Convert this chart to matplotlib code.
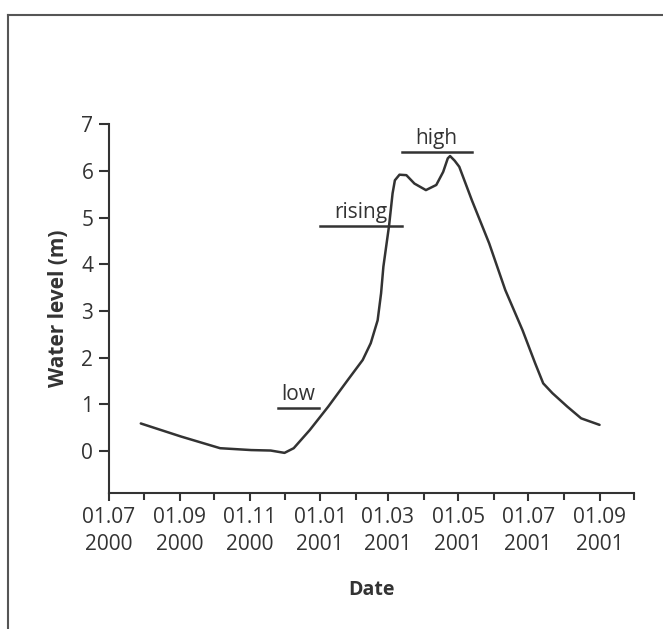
import matplotlib
matplotlib.use('Agg')
import matplotlib.pyplot as plt
import matplotlib.dates as mdates
from matplotlib.lines import Line2D
import numpy as np

# water level readings
dates = ['2000-07-29', '2000-09-02', '2000-10-06', '2000-11-02', '2000-11-19',
         '2000-12-01', '2000-12-09', '2000-12-23', '2001-01-08', '2001-01-25',
         '2001-02-07', '2001-02-14', '2001-02-20', '2001-02-23', '2001-02-25',
         '2001-03-02', '2001-03-05', '2001-03-07', '2001-03-11', '2001-03-17',
         '2001-03-24', '2001-04-03', '2001-04-12', '2001-04-18', '2001-04-22',
         '2001-04-24', '2001-04-28', '2001-05-02', '2001-05-13', '2001-05-28',
         '2001-06-11', '2001-06-26', '2001-07-07', '2001-07-14', '2001-07-22',
         '2001-08-04', '2001-08-16', '2001-09-01']
level = [0.59, 0.31, 0.06, 0.02, 0.01,
         -0.04, 0.06, 0.45, 0.95, 1.52,
         1.95, 2.31, 2.80, 3.38, 3.95,
         4.84, 5.52, 5.80, 5.92, 5.91,
         5.73, 5.59, 5.70, 5.98, 6.27,
         6.32, 6.22, 6.09, 5.37, 4.45,
         3.45, 2.59, 1.88, 1.45, 1.24,
         0.95, 0.70, 0.56]

# phase markers: label, start, end, level
phases = ['low', 'rising', 'high']
phase_start = ['2000-11-25', '2001-01-01', '2001-03-13']
phase_end = ['2000-12-31', '2001-03-13', '2001-05-13']
phase_y = [0.93, 4.82, 6.41]

tick_dates = ['2000-07-01', '2000-09-01', '2000-11-01', '2001-01-01',
              '2001-03-01', '2001-05-01', '2001-07-01', '2001-09-01']
tick_labels = ['01.07\n2000', '01.09\n2000', '01.11\n2000', '01.01\n2001',
               '01.03\n2001', '01.05\n2001', '01.07\n2001', '01.09\n2001']

ink = '#333333'
plt.rcParams['font.family'] = ['Open Sans', 'DejaVu Sans']

fig = plt.figure(figsize=(6.63, 6.29), dpi=100)
ax = fig.add_axes([0.1638, 0.2162, 0.9563 - 0.1638, 0.8024 - 0.2162])

x = np.array(dates, dtype='datetime64[D]')
ax.plot(x, level, color=ink, lw=1.8, solid_capstyle='round',
        solid_joinstyle='round')

for name, s, e, y in zip(phases, phase_start, phase_end, phase_y):
    s, e = np.datetime64(s), np.datetime64(e)
    ax.plot([s, e], [y, y], color=ink, lw=1.8)
    mid = s + (e - s) / 2
    ax.text(mid, y + 0.06, name, ha='center', va='bottom', fontsize=15,
            color=ink)

ax.set_xlim(np.datetime64('2000-07-01'), np.datetime64('2001-10-01'))
ax.set_ylim(-0.9, 7)
ax.set_yticks(range(0, 8))
ax.set_xticks(np.array(tick_dates, dtype='datetime64[D]'))
ax.set_xticklabels(tick_labels, linespacing=1.4)
ax.xaxis.set_minor_locator(mdates.MonthLocator())

for side in ['top', 'right']:
    ax.spines[side].set_visible(False)
for side in ['left', 'bottom']:
    ax.spines[side].set_color(ink)
    ax.spines[side].set_linewidth(1.5)
ax.spines['left'].set_bounds(-0.9, 7)

ax.tick_params(axis='both', which='both', colors=ink, labelcolor=ink,
               labelsize=15, width=1.5)
ax.tick_params(axis='y', length=7, pad=4)
ax.tick_params(axis='x', which='major', length=6, pad=4)
ax.tick_params(axis='x', which='minor', length=5)

ax.set_xlabel('Date', fontsize=14, fontweight='bold', color=ink, labelpad=18)
ax.set_ylabel('Water level (m)', fontsize=15, fontweight='bold', color=ink,
              labelpad=9)

# frame around the figure (left and top edges visible)
fig.add_artist(Line2D([8 / 663, 8 / 663], [0, 1 - 15 / 629],
                      transform=fig.transFigure, color='#555555', lw=1.5))
fig.add_artist(Line2D([8 / 663, 1], [1 - 15 / 629, 1 - 15 / 629],
                      transform=fig.transFigure, color='#555555', lw=1.5))

fig.savefig('out.png', dpi=100)
